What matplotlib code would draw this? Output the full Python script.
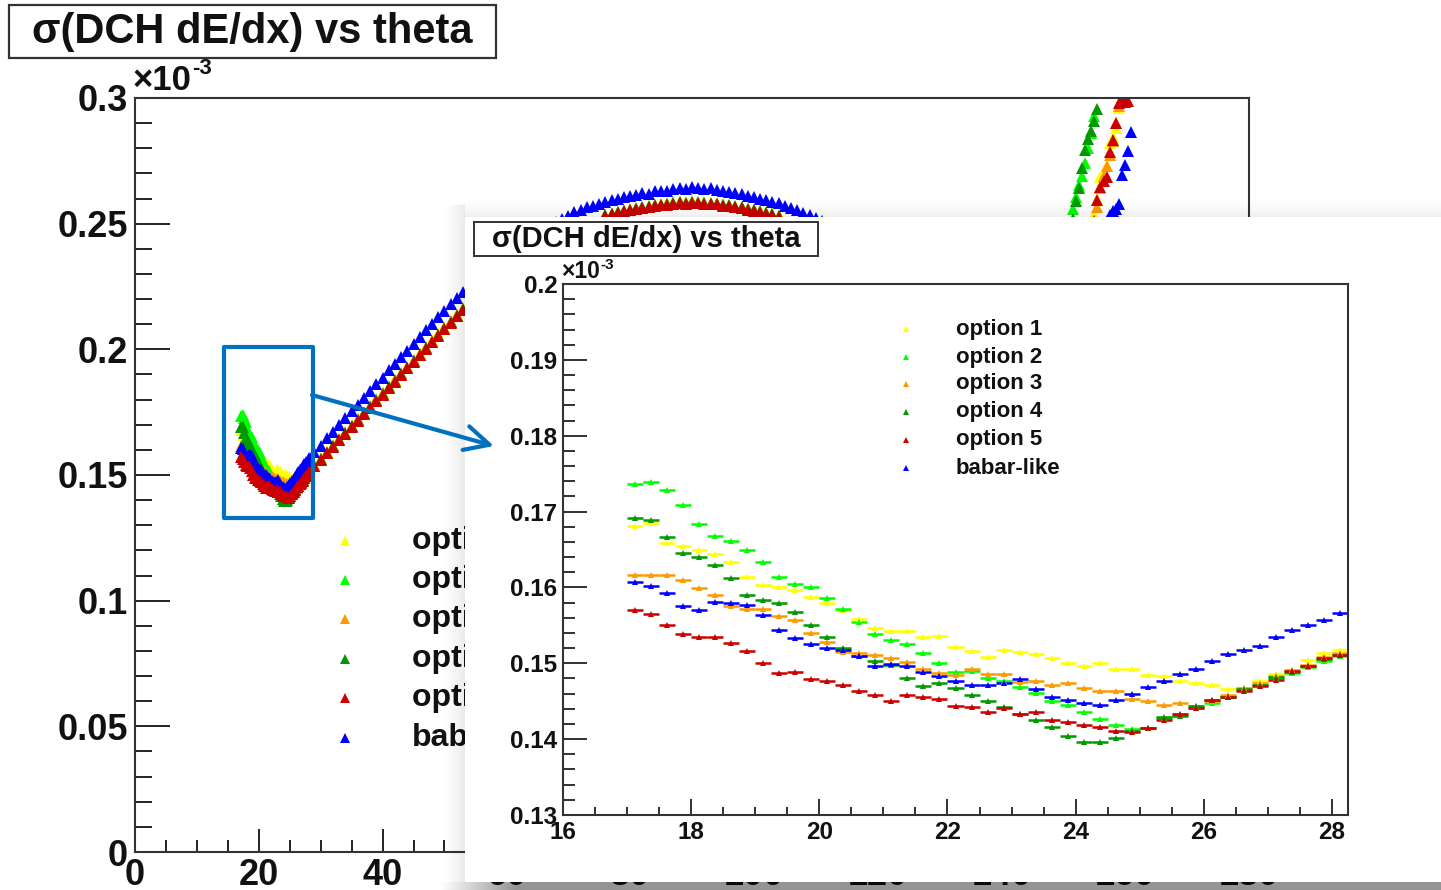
import numpy as np
import matplotlib
matplotlib.use("Agg")
import matplotlib.pyplot as plt
from matplotlib.patches import Rectangle, FancyArrowPatch
from matplotlib.ticker import MultipleLocator, FuncFormatter
from matplotlib.transforms import Bbox, TransformedBbox

nan = np.nan

# ------------------------------------------------------------------
# sigma(DCH dE/dx) versus polar angle theta (deg); values in units of 1e-3
# ------------------------------------------------------------------
LABELS = ["option 1", "option 2", "option 3", "option 4", "option 5", "babar-like"]
COLORS = ["#ffff00", "#00ff00", "#ff9900", "#009a00", "#cc0000", "#0000ff"]

# forward minimum, 0.25 deg bins (centres 17.125 ... 28.125)
FINE_BIN_WIDTH = 0.25
FINE_THETA = np.arange(17.125, 28.2, FINE_BIN_WIDTH)
FINE_OPT1 = [0.1681, 0.1685, 0.1659, 0.1654, 0.1650, 0.1644, 0.1633, 0.1614, 0.1603, 0.1601,
             0.1597, 0.1588, 0.1580, 0.1570, 0.1558, 0.1546, 0.1542, 0.1543, 0.1534, 0.1536,
             0.1521, 0.1516, 0.1508, 0.1518, 0.1515, 0.1512, 0.1507, 0.1501, 0.1496, 0.1500,
             0.1493, 0.1493, 0.1485, 0.1483, 0.1477, 0.1474, 0.1472, 0.1466, 0.1467, 0.1477,
             0.1486, 0.1491, 0.1504, 0.1513, 0.1518]
FINE_OPT2 = [0.1736, 0.1739, 0.1728, 0.1709, 0.1683, 0.1668, 0.1661, 0.1650, 0.1633, 0.1614,
             0.1605, 0.1601, 0.1586, 0.1571, 0.1554, 0.1538, 0.1531, 0.1525, 0.1514, 0.1501,
             0.1488, 0.1490, 0.1480, 0.1477, 0.1469, 0.1461, 0.1450, 0.1445, 0.1436, 0.1426,
             0.1418, 0.1413, 0.1415, 0.1428, 0.1433, 0.1441, 0.1448, 0.1456, 0.1465, 0.1472,
             0.1480, 0.1487, 0.1495, 0.1503, 0.1509]
FINE_OPT3 = [0.1616, 0.1616, 0.1616, 0.1610, 0.1599, 0.1590, 0.1575, 0.1571, 0.1571, 0.1562,
             0.1557, 0.1540, 0.1528, 0.1515, 0.1513, 0.1511, 0.1507, 0.1502, 0.1493, 0.1487,
             0.1484, 0.1493, 0.1486, 0.1486, 0.1475, 0.1477, 0.1472, 0.1474, 0.1468, 0.1463,
             0.1463, 0.1453, 0.1450, 0.1445, 0.1447, 0.1444, 0.1450, 0.1458, 0.1467, 0.1474,
             0.1483, 0.1491, 0.1498, 0.1508, 0.1513]
FINE_OPT4 = [0.1692, 0.1689, 0.1666, 0.1646, 0.1640, 0.1629, 0.1613, 0.1590, 0.1584, 0.1579,
             0.1568, 0.1551, 0.1534, 0.1520, 0.1509, 0.1503, 0.1498, 0.1481, 0.1470, 0.1474,
             0.1467, 0.1458, 0.1450, 0.1442, 0.1433, 0.1425, 0.1416, 0.1404, 0.1396, 0.1396,
             0.1401, 0.1411, 0.1415, 0.1429, 0.1431, 0.1444, 0.1451, 0.1456, 0.1466, 0.1471,
             0.1482, 0.1489, 0.1496, 0.1505, 0.1511]
FINE_OPT5 = [0.1570, 0.1565, 0.1551, 0.1539, 0.1534, 0.1534, 0.1527, 0.1516, 0.1501, 0.1487,
             0.1489, 0.1479, 0.1476, 0.1472, 0.1463, 0.1458, 0.1450, 0.1458, 0.1456, 0.1453,
             0.1444, 0.1442, 0.1436, 0.1441, 0.1433, 0.1436, 0.1425, 0.1422, 0.1418, 0.1416,
             0.1411, 0.1409, 0.1415, 0.1425, 0.1433, 0.1441, 0.1451, 0.1455, 0.1464, 0.1470,
             0.1478, 0.1490, 0.1497, 0.1507, 0.1511]
FINE_BABAR = [0.1607, 0.1602, 0.1592, 0.1575, 0.1570, 0.1581, 0.1579, 0.1577, 0.1564, 0.1544,
              0.1533, 0.1526, 0.1520, 0.1518, 0.1509, 0.1496, 0.1499, 0.1497, 0.1488, 0.1483,
              0.1476, 0.1472, 0.1472, 0.1474, 0.1479, 0.1466, 0.1455, 0.1452, 0.1447, 0.1445,
              0.1452, 0.1460, 0.1469, 0.1476, 0.1486, 0.1493, 0.1503, 0.1512, 0.1518, 0.1523,
              0.1534, 0.1544, 0.1551, 0.1557, 0.1566]

# rising edge towards the barrel, 1 deg bins
RISE_THETA = np.arange(29, 54)
RISE_OPT1 = [0.1542, 0.1567, 0.1595, 0.1620, 0.1647, 0.1672, 0.1700, 0.1724, 0.1752, 0.1776,
             0.1803, 0.1829, 0.1855, 0.1881, 0.1907, 0.1933, 0.1959, 0.1985, 0.2011, 0.2036,
             0.2063, 0.2088, 0.2114, 0.2140, 0.2165]
RISE_OPT2 = [0.1536, 0.1562, 0.1588, 0.1615, 0.1640, 0.1667, 0.1692, 0.1719, 0.1745, 0.1771,
             0.1797, 0.1823, 0.1849, 0.1875, 0.1901, 0.1927, 0.1953, 0.1979, 0.2005, 0.2031,
             0.2057, 0.2083, 0.2108, 0.2134, 0.2160]
RISE_OPT3 = [0.1538, 0.1564, 0.1591, 0.1616, 0.1643, 0.1669, 0.1695, 0.1721, 0.1748, 0.1773,
             0.1800, 0.1825, 0.1852, 0.1877, 0.1904, 0.1929, 0.1956, 0.1981, 0.2008, 0.2033,
             0.2059, 0.2085, 0.2111, 0.2136, 0.2162]
RISE_OPT4 = [0.1537, 0.1563, 0.1589, 0.1614, 0.1641, 0.1666, 0.1693, 0.1718, 0.1746, 0.1770,
             0.1798, 0.1822, 0.1850, 0.1874, 0.1902, 0.1926, 0.1954, 0.1978, 0.2006, 0.2030,
             0.2058, 0.2082, 0.2109, 0.2133, 0.2159]
RISE_OPT5 = [0.1534, 0.1560, 0.1587, 0.1612, 0.1639, 0.1664, 0.1691, 0.1716, 0.1743, 0.1768,
             0.1795, 0.1820, 0.1847, 0.1872, 0.1899, 0.1924, 0.1951, 0.1976, 0.2003, 0.2028,
             0.2054, 0.2080, 0.2106, 0.2131, 0.2157]
RISE_BABAR = [0.1591, 0.1617, 0.1646, 0.1671, 0.1700, 0.1725, 0.1754, 0.1780, 0.1808, 0.1834,
              0.1862, 0.1887, 0.1916, 0.1941, 0.1969, 0.1995, 0.2023, 0.2048, 0.2076, 0.2100,
              0.2128, 0.2152, 0.2179, 0.2203, 0.2230]

# central region around 90 deg, 1 deg bins
TOP_THETA = np.arange(76, 105)
TOP_OPT1 = [0.2534, 0.2540, 0.2548, 0.2552, 0.2558, 0.2562, 0.2568, 0.2570, 0.2576, 0.2578,
            0.2583, 0.2585, 0.2592, 0.2588, 0.2590, 0.2587, 0.2586, 0.2583, 0.2581, 0.2578,
            0.2575, 0.2570, 0.2567, 0.2561, 0.2557, 0.2551, 0.2546, 0.2539, 0.2533]
TOP_OPT2 = [0.2532, 0.2539, 0.2545, 0.2551, 0.2555, 0.2561, 0.2564, 0.2569, 0.2572, 0.2576,
            0.2578, 0.2582, 0.2584, 0.2583, 0.2586, 0.2585, 0.2583, 0.2581, 0.2579, 0.2575,
            0.2572, 0.2569, 0.2564, 0.2559, 0.2554, 0.2549, 0.2543, 0.2537, 0.2531]
TOP_OPT3 = [0.2531, 0.2538, 0.2544, 0.2550, 0.2555, 0.2560, 0.2563, 0.2568, 0.2571, 0.2575,
            0.2577, 0.2580, 0.2583, 0.2582, 0.2585, 0.2583, 0.2582, 0.2579, 0.2578, 0.2574,
            0.2571, 0.2567, 0.2563, 0.2557, 0.2553, 0.2547, 0.2541, 0.2536, 0.2529]
TOP_OPT4 = [0.2533, 0.2538, 0.2546, 0.2550, 0.2556, 0.2560, 0.2565, 0.2567, 0.2573, 0.2575,
            0.2579, 0.2581, 0.2585, 0.2582, 0.2587, 0.2584, 0.2584, 0.2580, 0.2580, 0.2576,
            0.2573, 0.2568, 0.2565, 0.2558, 0.2555, 0.2548, 0.2544, 0.2538, 0.2532]
TOP_OPT5 = [0.2530, 0.2537, 0.2543, 0.2549, 0.2553, 0.2559, 0.2562, 0.2566, 0.2570, 0.2574,
            0.2575, 0.2579, 0.2581, 0.2580, 0.2584, 0.2582, 0.2580, 0.2578, 0.2577, 0.2572,
            0.2570, 0.2566, 0.2561, 0.2556, 0.2552, 0.2546, 0.2540, 0.2535, 0.2528]
TOP_THETA_BABAR = np.arange(66, 115)
TOP_BABAR = [0.2480, 0.2495, 0.2508, 0.2520, 0.2532, 0.2545, 0.2553, 0.2566, 0.2571, 0.2580,
             0.2588, 0.2596, 0.2599, 0.2608, 0.2611, 0.2616, 0.2622, 0.2620, 0.2628, 0.2631,
             0.2629, 0.2636, 0.2640, 0.2638, 0.2645, 0.2641, 0.2637, 0.2640, 0.2632, 0.2630,
             0.2627, 0.2621, 0.2618, 0.2611, 0.2607, 0.2600, 0.2596, 0.2586, 0.2581, 0.2570,
             0.2562, 0.2553, 0.2543, 0.2533, 0.2522, 0.2510, 0.2497, 0.2485, 0.2470]

# backward edge, 0.5 deg bins (nan: above the plotted range)
BACK_THETA = np.arange(151.5, 161.6, 0.5)
BACK_OPT1 = [0.2360, 0.2380, 0.2400, 0.2420, 0.2440, 0.2462, 0.2490, 0.2535, 0.2600, 0.2687,
             0.2705, 0.2730, 0.2820, 0.2845, 0.2880, 0.2960, nan, nan, nan, nan, nan]
BACK_OPT2 = [0.2558, 0.2608, 0.2654, 0.2690, 0.2740, 0.2800, 0.2860, 0.2930, nan, nan,
             nan, nan, nan, nan, nan, nan, nan, nan, nan, nan, nan]
BACK_OPT3 = [0.2330, 0.2350, 0.2370, 0.2390, 0.2410, 0.2430, 0.2460, 0.2500, 0.2568, 0.2642,
             0.2690, 0.2730, 0.2774, 0.2830, 0.2900, 0.2970, nan, nan, nan, nan, nan]
BACK_OPT4 = [0.2520, 0.2590, 0.2640, 0.2721, 0.2793, 0.2836, 0.2870, 0.2909, 0.2955, nan,
             nan, nan, nan, nan, nan, nan, nan, nan, nan, nan, nan]
BACK_OPT5 = [0.2320, 0.2340, 0.2360, 0.2380, 0.2400, 0.2425, 0.2455, 0.2510, 0.2594, 0.2647,
             0.2670, 0.2687, 0.2787, 0.2833, 0.2900, 0.2979, 0.2992, 0.2985, 0.2990, nan, nan]
BACK_BABAR = [0.2280, 0.2300, 0.2320, 0.2340, 0.2360, 0.2380, 0.2400, 0.2420, 0.2440, 0.2460,
              0.2490, 0.2510, 0.2535, 0.2550, 0.2560, 0.2577, 0.2695, 0.2734, 0.2790, 0.2866, nan]

FINE = [FINE_OPT1, FINE_OPT2, FINE_OPT3, FINE_OPT4, FINE_OPT5, FINE_BABAR]
RISE = [RISE_OPT1, RISE_OPT2, RISE_OPT3, RISE_OPT4, RISE_OPT5, RISE_BABAR]
TOP = [TOP_OPT1, TOP_OPT2, TOP_OPT3, TOP_OPT4, TOP_OPT5, TOP_BABAR]
TOP_X = [TOP_THETA] * 5 + [TOP_THETA_BABAR]
BACK = [BACK_OPT1, BACK_OPT2, BACK_OPT3, BACK_OPT4, BACK_OPT5, BACK_BABAR]

# ------------------------------------------------------------------
W, H = 1441, 890
plt.rcParams['font.family'] = ['Liberation Sans', 'DejaVu Sans']
plt.rcParams['font.weight'] = 'bold'
fig = plt.figure(figsize=(W / 100, H / 100), dpi=100)
fig.patch.set_facecolor('white')


def fx(px):
    return px / W


def fy(py):
    return 1 - py / H


FRAME = '#333333'
TXT = '#111111'
fmt = FuncFormatter(lambda v, p: f"{v:g}")

# ---------------- main canvas ----------------
ax = fig.add_axes([fx(135), fy(852), fx(1249) - fx(135), fy(98) - fy(852)])
ax.set_zorder(0)
ax.set_xlim(0, 180)
ax.set_ylim(0, 0.3)
for s in ax.spines.values():
    s.set_color(FRAME)
    s.set_linewidth(1.5)
ax.xaxis.set_major_locator(MultipleLocator(20))
ax.xaxis.set_minor_locator(MultipleLocator(5))
ax.yaxis.set_major_locator(MultipleLocator(0.05))
ax.yaxis.set_minor_locator(MultipleLocator(0.01))
ax.yaxis.set_major_formatter(fmt)
ax.xaxis.set_major_formatter(fmt)
ax.tick_params(which='both', direction='in', top=False, right=False,
               color='#222222', width=1.4, labelcolor=TXT)
ax.tick_params(axis='y', which='major', length=25, pad=5, labelsize=26)
ax.tick_params(axis='y', which='minor', length=12)
ax.tick_params(axis='x', which='major', length=16.5, pad=4.5, labelsize=26)
ax.tick_params(axis='x', which='minor', length=8.5)

draw_order = [0, 1, 2, 3, 5, 4]
for i in draw_order:
    th = np.concatenate([FINE_THETA, RISE_THETA, TOP_X[i], BACK_THETA])
    val = np.concatenate([FINE[i], RISE[i], TOP[i], BACK[i]])
    ax.plot(th, val, ls='none', marker='^', ms=8, mew=0, color=COLORS[i])

# main legend (rows in pixel positions); the zoom panel hides its right part
legend_clip = TransformedBbox(Bbox([[0, 0], [fx(465), 1]]), fig.transFigure)
main_rows = [541, 580, 619, 659, 698, 738]
for i, yrow in enumerate(main_rows):
    ax.plot([fx(345)], [fy(yrow)], transform=fig.transFigure, ls='none', marker='^',
            ms=6.5, mew=0, color=COLORS[i], clip_on=False)
    t = ax.text(fx(412), fy(yrow), LABELS[i], transform=fig.transFigure, fontsize=23,
                fontweight='bold', ha='left', va='center', color=TXT)
    t.set_clip_path(None)
    t.set_clip_box(legend_clip)
    t.set_clip_on(True)

# main title box and exponent
fig.add_artist(Rectangle((fx(9), fy(58)), fx(496) - fx(9), fy(5) - fy(58),
                         transform=fig.transFigure, fill=False, lw=1.6, ec=FRAME, zorder=1))
fig.text(fx(252), fy(32), "σ(DCH dE/dx) vs theta", fontsize=30, fontweight='bold',
         ha='center', va='center', color=TXT, zorder=1)
fig.text(fx(133), fy(80), "×10", fontsize=25, fontweight='bold', ha='left', va='center',
         color=TXT, zorder=1)
fig.text(fx(192), fy(69), "-3", fontsize=16, fontweight='bold', ha='left', va='center',
         color=TXT, zorder=1)

# ---------------- drop shadow of the zoom panel ----------------
yy, xx = np.mgrid[0:H, 0:W]
alpha = np.zeros((H, W))
top = (xx >= 455) & (yy >= 196) & (yy < 217)
alpha[top] = 0.07 * ((yy[top] - 196) / 21.0) ** 1.6
left = (xx >= 440) & (xx < 465) & (yy >= 205)
alpha[left] = np.maximum(alpha[left], 0.09 * ((xx[left] - 440) / 25.0) ** 1.6)
bottom = yy >= 882
ramp = np.clip((xx - 440) / 75.0, 0, 1)
alpha[bottom] = 0.42 * ramp[bottom]
shadow = np.zeros((H, W, 4))
shadow[..., 3] = alpha
fig.figimage(shadow, xo=0, yo=0, origin='upper', zorder=1)

fig.add_artist(Rectangle((fx(465), fy(882)), fx(1441) - fx(465), fy(217) - fy(882),
                         transform=fig.transFigure, fc='white', ec='none', zorder=2))

# ---------------- zoomed panel ----------------
ax2 = fig.add_axes([fx(563), fy(815), fx(1348) - fx(563), fy(284) - fy(815)])
ax2.set_zorder(3)
ax2.set_facecolor('white')
ax2.set_xlim(16, 28.25)
ax2.set_ylim(0.13, 0.2)
for s in ax2.spines.values():
    s.set_color(FRAME)
    s.set_linewidth(1.5)
ax2.xaxis.set_major_locator(MultipleLocator(2))
ax2.xaxis.set_minor_locator(MultipleLocator(0.5))
ax2.yaxis.set_major_locator(MultipleLocator(0.01))
ax2.yaxis.set_minor_locator(MultipleLocator(0.002))
ax2.yaxis.set_major_formatter(fmt)
ax2.xaxis.set_major_formatter(fmt)
ax2.tick_params(which='both', direction='in', top=False, right=False,
                color='#222222', width=1.3, labelcolor=TXT)
ax2.tick_params(axis='y', which='major', length=17, pad=4, labelsize=17.5)
ax2.tick_params(axis='y', which='minor', length=8.5)
ax2.tick_params(axis='x', which='major', length=11.5, pad=4, labelsize=17.5)
ax2.tick_params(axis='x', which='minor', length=5.8)

for i in draw_order:
    ax2.errorbar(FINE_THETA, FINE[i], xerr=FINE_BIN_WIDTH / 2, fmt='^', ms=4.5, mew=0,
                 color=COLORS[i], elinewidth=1.8, capsize=0)

inset_rows = [329, 357, 384, 412, 440, 468]
for i, yrow in enumerate(inset_rows):
    ax2.plot([fx(906)], [fy(yrow)], transform=fig.transFigure, ls='none', marker='^',
             ms=4.5, mew=0, color=COLORS[i], clip_on=False)
    ax2.text(fx(956), fy(yrow), LABELS[i], transform=fig.transFigure, fontsize=16,
             fontweight='bold', ha='left', va='center', color=TXT)

fig.add_artist(Rectangle((fx(474), fy(256)), fx(818) - fx(474), fy(222) - fy(256),
                         transform=fig.transFigure, fc='white', lw=1.4, ec=FRAME, zorder=4))
fig.text(fx(646), fy(239), "σ(DCH dE/dx) vs theta", fontsize=21, fontweight='bold',
         ha='center', va='center', color=TXT, zorder=5)
fig.text(fx(561), fy(272), "×10", fontsize=16.5, fontweight='bold', ha='left', va='center',
         color=TXT, zorder=5)
fig.text(fx(600), fy(265), "-3", fontsize=11, fontweight='bold', ha='left', va='center',
         color=TXT, zorder=5)

# ---------------- highlight box and pointer ----------------
BLUE = '#0070c0'
fig.add_artist(Rectangle((fx(224), fy(518)), fx(313) - fx(224), fy(347) - fy(518),
                         transform=fig.transFigure, fill=False, lw=3, ec=BLUE,
                         joinstyle='round', zorder=6))
fig.add_artist(FancyArrowPatch((fx(312), fy(395)), (fx(494), fy(446)),
                               transform=fig.transFigure,
                               arrowstyle='->,head_length=0.4,head_width=0.2',
                               mutation_scale=44, lw=3, color=BLUE,
                               shrinkA=0, shrinkB=0, capstyle='round',
                               joinstyle='round', zorder=6))

fig.savefig('out.png', dpi=100)
